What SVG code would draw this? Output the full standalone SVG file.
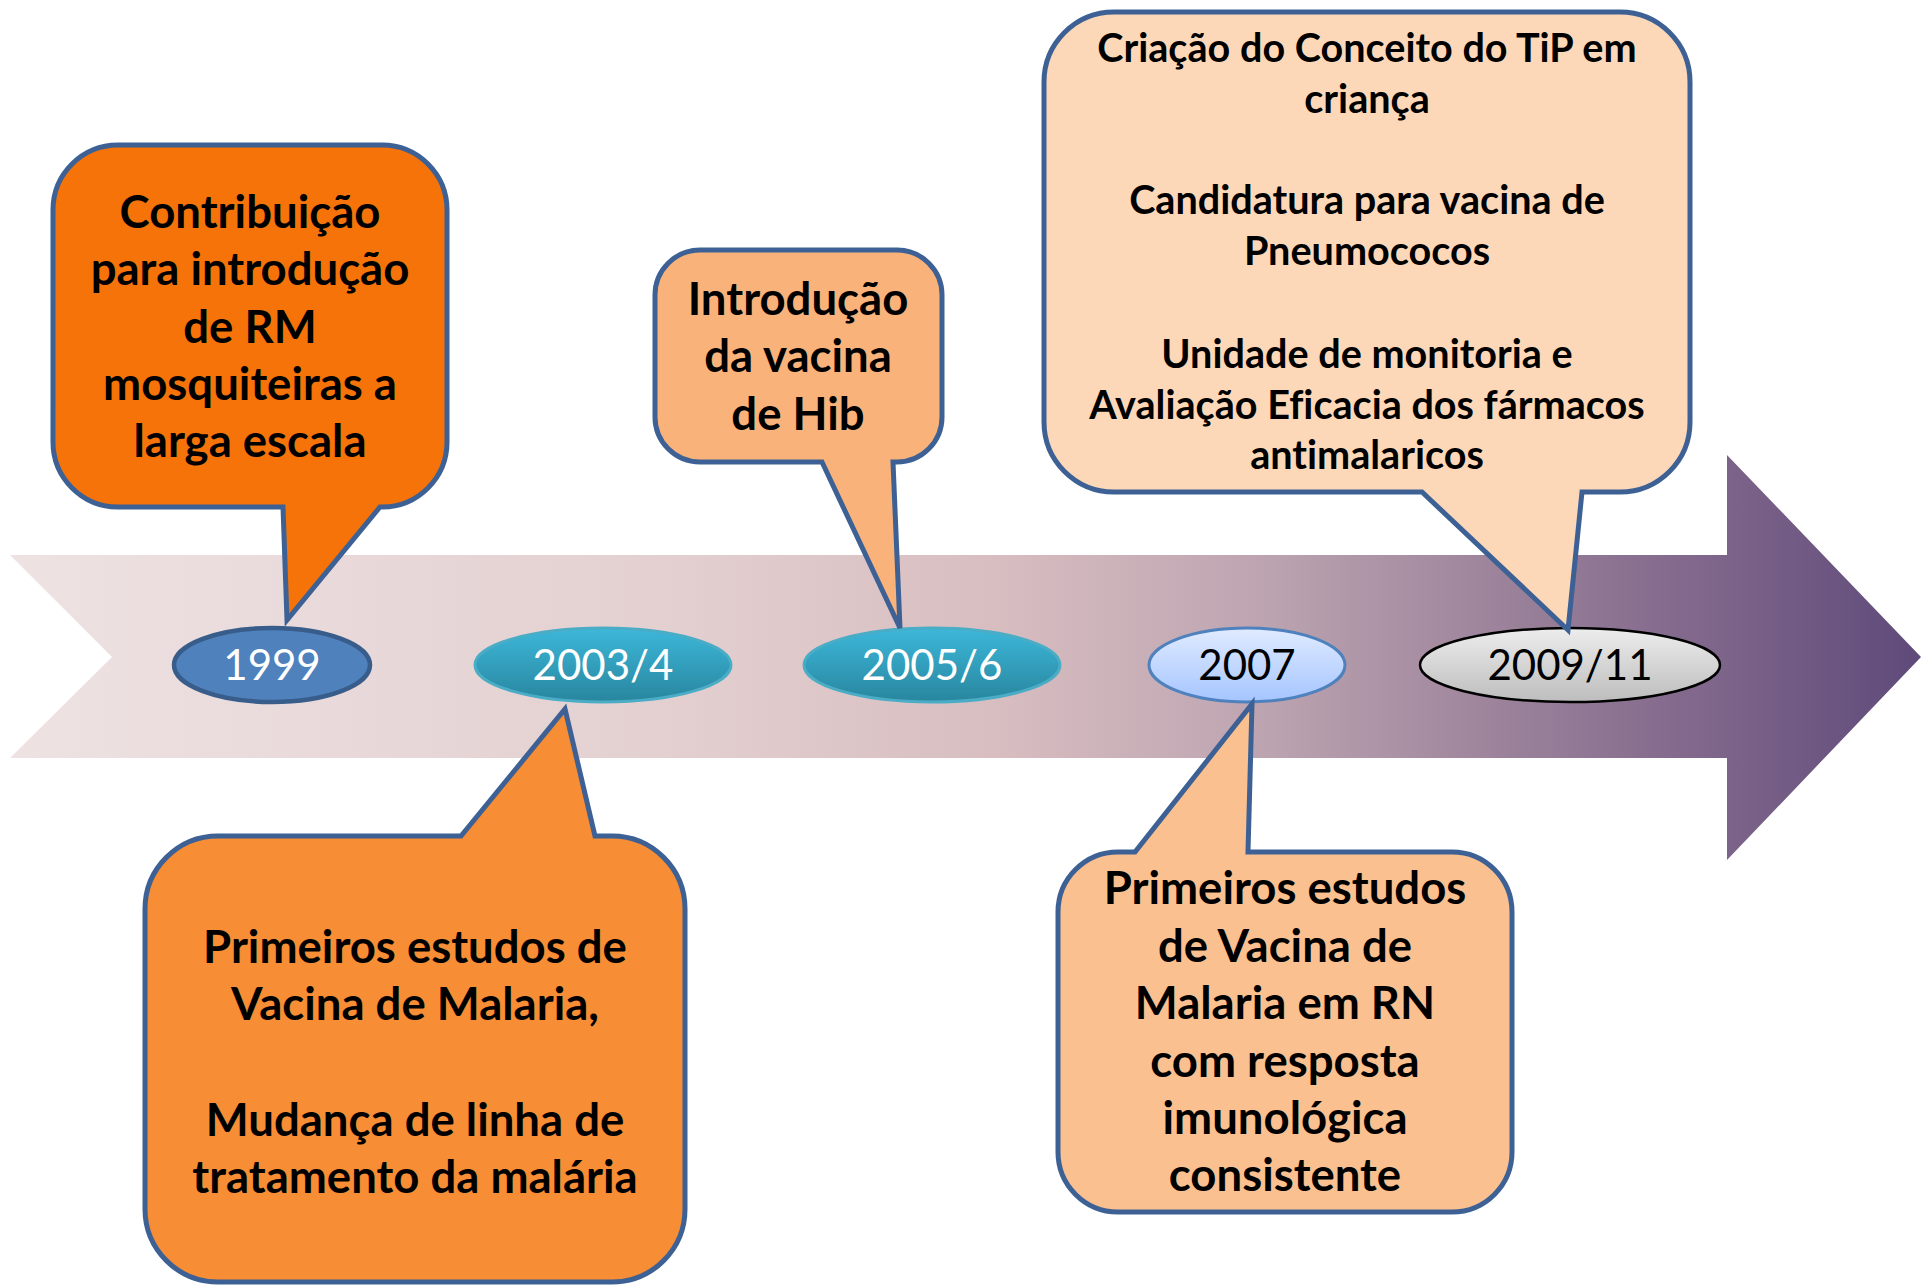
<svg xmlns="http://www.w3.org/2000/svg" width="1921" height="1286" viewBox="0 0 1921 1286">
<defs>
<linearGradient id="gArrow" gradientUnits="userSpaceOnUse" x1="10" y1="0" x2="1921" y2="0">
<stop offset="0" stop-color="#EEE2E3"/>
<stop offset="0.35" stop-color="#E3CFD0"/>
<stop offset="0.52" stop-color="#D7BDC0"/>
<stop offset="0.66" stop-color="#BCA3B0"/>
<stop offset="0.78" stop-color="#9C839B"/>
<stop offset="0.9" stop-color="#7C6389"/>
<stop offset="1" stop-color="#5E4A7A"/>
</linearGradient>
<linearGradient id="gTeal" x1="0" y1="0" x2="0" y2="1">
<stop offset="0" stop-color="#3DB7DA"/>
<stop offset="1" stop-color="#28869E"/>
</linearGradient>
<linearGradient id="gLight" x1="0" y1="0" x2="0" y2="1">
<stop offset="0" stop-color="#E0EBFF"/>
<stop offset="1" stop-color="#A5C5FF"/>
</linearGradient>
<linearGradient id="gGray" x1="0" y1="0" x2="0" y2="1">
<stop offset="0" stop-color="#EDEDED"/>
<stop offset="1" stop-color="#BDBDBD"/>
</linearGradient>
</defs>
<style>
.bubble{stroke:#3D6194;stroke-width:5;stroke-linejoin:miter}
.bt{font-family:Lato,"Liberation Sans",sans-serif;font-weight:bold;fill:#000;text-anchor:middle;font-variant-ligatures:none}
.big{font-size:45.5px}
.small{font-size:39.6px}
.yr{font-family:Lato,"Liberation Sans",sans-serif;font-size:42px;text-anchor:middle}
</style>
<rect width="1921" height="1286" fill="#FFFFFF"/>
<g id="connectors">
<path id="timeline" d="M10,555 H1727 V455 L1921,657 L1727,860 V758 H10 L112,657 Z" fill="url(#gArrow)"/>
</g>
<g id="y1999"><ellipse cx="272" cy="665" rx="98" ry="37" fill="#4F81BD" stroke="#385D8A" stroke-width="4.5"/><text class="yr" x="272" y="680" fill="#FFFFFF">1999</text></g>
<g id="y2003"><ellipse cx="603" cy="665" rx="128" ry="37" fill="url(#gTeal)" stroke="#4BACC6" stroke-width="3"/><text class="yr" x="603" y="680" fill="#FFFFFF">2003/4</text></g>
<g id="y2005"><ellipse cx="932" cy="665" rx="128" ry="37" fill="url(#gTeal)" stroke="#4BACC6" stroke-width="3"/><text class="yr" x="932" y="680" fill="#FFFFFF">2005/6</text></g>
<g id="y2007"><ellipse cx="1247" cy="665" rx="98" ry="37" fill="url(#gLight)" stroke="#4F81BD" stroke-width="3"/><text class="yr" x="1247" y="680" fill="#000000">2007</text></g>
<g id="y2009"><ellipse cx="1570" cy="665" rx="150" ry="37" fill="url(#gGray)" stroke="#000000" stroke-width="2.5"/><text class="yr" x="1570" y="680" fill="#000000">2009/11</text></g>
<g id="b1999">
<path class="bubble" fill="#F57309" d="M118,145 H382 A65,65 0 0 1 447,210 V442 A65,65 0 0 1 382,507 H380 L287,620 L283,507 H118 A65,65 0 0 1 53,442 V210 A65,65 0 0 1 118,145 Z"/>
<text class="bt big"><tspan x="250" y="228">Contribuição</tspan><tspan x="250" y="285">para introdução</tspan><tspan x="250" y="343">de RM</tspan><tspan x="250" y="400">mosquiteiras a</tspan><tspan x="250" y="457">larga escala</tspan></text>
</g>
<g id="b2005">
<path class="bubble" fill="#FAB27B" d="M700,250 H897 A45,45 0 0 1 942,295 V417 A45,45 0 0 1 897,462 H893 L900,628 L822,462 H700 A45,45 0 0 1 655,417 V295 A45,45 0 0 1 700,250 Z"/>
<text class="bt big"><tspan x="798" y="315">Introdução</tspan><tspan x="798" y="372">da vacina</tspan><tspan x="798" y="430">de Hib</tspan></text>
</g>
<g id="b2009">
<path class="bubble" fill="#FCD8B9" d="M1114,12 H1620 A70,70 0 0 1 1690,82 V422 A70,70 0 0 1 1620,492 H1582 L1568,630 L1422,492 H1114 A70,70 0 0 1 1044,422 V82 A70,70 0 0 1 1114,12 Z"/>
<text class="bt small"><tspan x="1367" y="62">Criação do Conceito do TiP em</tspan><tspan x="1367" y="113">criança</tspan><tspan x="1367" y="214">Candidatura para vacina de</tspan><tspan x="1367" y="265">Pneumococos</tspan><tspan x="1367" y="368">Unidade de monitoria e</tspan><tspan x="1367" y="419">Avaliação Eficacia dos fármacos</tspan><tspan x="1367" y="469">antimalaricos</tspan></text>
</g>
<g id="b2003">
<path class="bubble" fill="#F78D34" d="M218,836 H461 L565,709 L595,836 H612 A73,73 0 0 1 685,909 V1209 A73,73 0 0 1 612,1282 H218 A73,73 0 0 1 145,1209 V909 A73,73 0 0 1 218,836 Z"/>
<text class="bt big"><tspan x="415" y="963">Primeiros estudos de</tspan><tspan x="415" y="1020">Vacina de Malaria,</tspan><tspan x="415" y="1136">Mudança de linha de</tspan><tspan x="415" y="1193">tratamento da malária</tspan></text>
</g>
<g id="b2007">
<path class="bubble" fill="#FAC090" d="M1118,852 H1135 L1252,704 L1248,852 H1452 A60,60 0 0 1 1512,912 V1152 A60,60 0 0 1 1452,1212 H1118 A60,60 0 0 1 1058,1152 V912 A60,60 0 0 1 1118,852 Z"/>
<text class="bt big"><tspan x="1285" y="904">Primeiros estudos</tspan><tspan x="1285" y="962">de Vacina de</tspan><tspan x="1285" y="1019">Malaria em RN</tspan><tspan x="1285" y="1077">com resposta</tspan><tspan x="1285" y="1134">imunológica</tspan><tspan x="1285" y="1191">consistente</tspan></text>
</g>
</svg>
